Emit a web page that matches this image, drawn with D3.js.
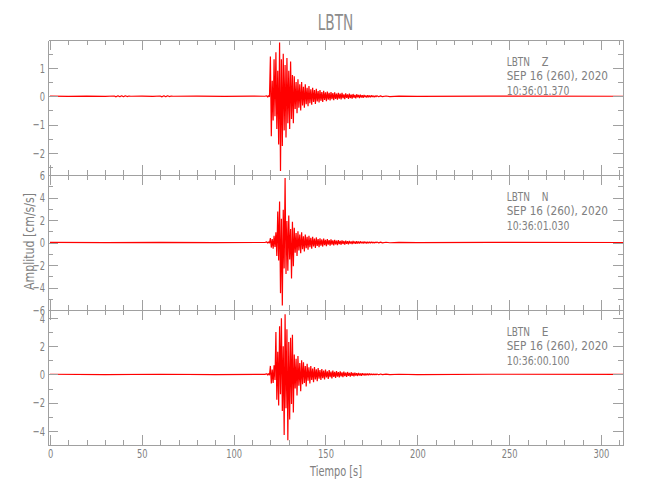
<!DOCTYPE html>
<html><head><meta charset="utf-8">
<script src="https://cdn.jsdelivr.net/npm/d3@7"></script>
<style>
body{margin:0;background:#fff}
svg{display:block}
text{font-family:"DejaVu Sans",sans-serif;font-weight:normal;fill:#808080}
</style>
</head><body>
<svg id="c" width="650" height="500"></svg>
<script>
// ---------- data ----------
const station = "LBTN";
const components = ["Z", "N", "E"];
const dateLabels = ["SEP 16 (260), 2020", "SEP 16 (260), 2020", "SEP 16 (260), 2020"];
const timeLabels = ["10:36:01.370", "10:36:01.030", "10:36:00.100"];
const xLabel = "Tiempo [s]";
const yLabel = "Amplitud [cm/s/s]";

const timeDomain = [-1.1, 312];
const xTicks = [0, 50, 100, 150, 200, 250, 300];
const xMinor = [10, 20, 30, 40, 60, 70, 80, 90, 110, 120, 130, 140, 160, 170, 180, 190, 210, 220, 230, 240, 260, 270, 280, 290, 310];

const zDomain = [-2.77, 1.98];
const zTicks = [-2, -1, 0, 1];
const zMinor = [-2.5, -1.5, -0.5, 0.5, 1.5];
const nDomain = [-6, 6];
const nTicks = [-6, -4, -2, 0, 2, 4, 6];
const nMinor = [-5, -3, -1, 1, 3, 5];
const eDomain = [-5.0, 4.56];
const eTicks = [-4, -2, 0, 2, 4];
const eMinor = [-5, -3, -1, 1, 3];

// strong-motion window: samples every 0.5 s starting at 118 s
const activeStart = 118, activeStep = 0.5;
const zValues = [
  0.02,-0.03, 0.03,-0.02, 1.40,-1.41, 0.55,-0.85, 1.30,-0.70,
  1.55,-1.15, 0.90,-1.70, 1.89,-2.63, 1.30,-1.75, 1.50,-1.20,
  1.10,-1.45, 1.35,-0.95, 0.90,-1.15, 1.22,-0.80, 0.75,-0.95,
  0.70,-0.45, 0.50,-0.60, 0.60,-0.40, 0.42,-0.50, 0.50,-0.32,
  0.33,-0.40, 0.42,-0.28, 0.30,-0.35, 0.36,-0.24, 0.25,-0.30,
  0.30,-0.20, 0.22,-0.27, 0.26,-0.18, 0.18,-0.22, 0.22,-0.16,
  0.15,-0.20, 0.19,-0.13, 0.14,-0.17, 0.17,-0.12, 0.12,-0.15,
  0.15,-0.10, 0.11,-0.14, 0.14,-0.09, 0.09,-0.12, 0.12,-0.08,
  0.09,-0.11, 0.12,-0.07, 0.07,-0.10, 0.10,-0.06, 0.07,-0.09,
  0.09,-0.06, 0.06,-0.08, 0.08,-0.05, 0.05,-0.07, 0.07,-0.04,
  0.05,-0.06, 0.06,-0.04, 0.04,-0.05, 0.05,-0.03, 0.03,-0.04,
  0.04,-0.03, 0.03,-0.03, 0.03,-0.02, 0.02,-0.03, 0.02,-0.02
];
const nValues = [
  0.05,-0.05, 0.06,-0.05, 0.40,-0.45, 0.30,-0.55, 0.60,-0.40,
  0.90,-1.20, 2.75,-1.60, 3.65,-4.50, 2.10,-5.60, 2.90,-2.30,
  5.74,-2.80, 1.90,-2.50, 2.40,-1.50, 1.20,-3.20, 1.85,-2.10,
  1.30,-0.90, 0.85,-1.20, 1.00,-0.70, 0.70,-0.95, 0.90,-0.60,
  0.55,-0.80, 0.70,-0.50, 0.50,-0.65, 0.60,-0.42, 0.42,-0.55,
  0.50,-0.36, 0.35,-0.48, 0.45,-0.30, 0.30,-0.42, 0.38,-0.28,
  0.27,-0.36, 0.34,-0.24, 0.24,-0.32, 0.30,-0.20, 0.21,-0.28,
  0.27,-0.18, 0.18,-0.25, 0.24,-0.16, 0.16,-0.23, 0.21,-0.15,
  0.14,-0.20, 0.19,-0.13, 0.13,-0.18, 0.17,-0.12, 0.12,-0.16,
  0.15,-0.10, 0.10,-0.14, 0.13,-0.09, 0.09,-0.12, 0.11,-0.08,
  0.08,-0.10, 0.10,-0.07, 0.07,-0.09, 0.08,-0.06, 0.06,-0.08,
  0.07,-0.05, 0.05,-0.06, 0.05,-0.04, 0.04,-0.05, 0.04,-0.03
];
const eValues = [
  0.05,-0.05, 0.06,-0.06, 0.60,-0.65, 0.35,-0.60, 0.65,-0.40,
  3.00,-1.80, 1.60,-2.20, 3.40,-1.40, 3.97,-2.60, 2.00,-4.30,
  4.25,-2.40, 3.20,-4.66, 2.30,-3.20, 2.60,-2.10, 2.80,-2.70,
  1.40,-1.00, 1.10,-1.50, 1.30,-0.80, 0.80,-1.20, 1.00,-0.70,
  0.85,-0.60, 0.60,-0.85, 0.75,-0.45, 0.50,-0.65, 0.60,-0.40,
  0.42,-0.55, 0.52,-0.35, 0.36,-0.48, 0.45,-0.30, 0.30,-0.40,
  0.38,-0.26, 0.27,-0.36, 0.34,-0.22, 0.22,-0.32, 0.30,-0.20,
  0.20,-0.28, 0.27,-0.18, 0.18,-0.25, 0.24,-0.16, 0.16,-0.22,
  0.21,-0.14, 0.14,-0.20, 0.19,-0.12, 0.12,-0.18, 0.17,-0.11,
  0.11,-0.15, 0.15,-0.10, 0.10,-0.13, 0.12,-0.08, 0.08,-0.11,
  0.10,-0.07, 0.07,-0.09, 0.08,-0.06, 0.06,-0.07, 0.06,-0.05,
  0.05,-0.05, 0.05,-0.04, 0.04,-0.04, 0.03,-0.04, 0.03,-0.03
];
// background noise outside the strong-motion window: [time s, value]
const zNoise = [[0,0.005],[10,-0.005],[20,0.005],[30,-0.005],
  [35,0.01],[36,-0.02],[37,0.02],[38,-0.02],[39,0.02],[40,-0.02],[41,0.02],[42,-0.01],[43,0.01],[44,0],
  [50,0.005],[56,-0.005],[60,0.01],[61,-0.02],[62,0.02],[63,-0.02],[64,0.02],[65,-0.01],[66,0.01],[67,0],
  [80,0.005],[95,-0.005],[110,0.005],[117,0],
  [178,0.02],[179,-0.02],[180,0.015],[181,-0.015],[183,0.01],[185,-0.01],[190,0.005],[200,-0.005],[240,0.005],[312,0]];
const nNoise = [[0,0.01],[30,-0.01],[60,0.01],[90,-0.01],[117,0],
  [178,0.04],[179,-0.03],[180,0.03],[181,-0.03],[183,0.02],[185,-0.02],[190,0.01],[200,-0.01],[240,0.01],[312,0]];
const eNoise = [[0,0.01],[30,-0.01],[60,0.01],[90,-0.01],[117,0],
  [178,0.03],[179,-0.03],[180,0.03],[181,-0.02],[183,0.02],[185,-0.02],[190,0.01],[200,-0.01],[240,0.01],[312,0]];

const panels = [
  {values: zValues, noise: zNoise, domain: zDomain, ticks: zTicks, minor: zMinor},
  {values: nValues, noise: nNoise, domain: nDomain, ticks: nTicks, minor: nMinor},
  {values: eValues, noise: eNoise, domain: eDomain, ticks: eTicks, minor: eMinor}
];

// ---------- layout ----------
const left = 48, right = 623, top0 = 40, panelH = 135;
const axisColor = "#a0a0a0";
const textColor = "#808080";
const sx = 0.64;

const svg = d3.select("#c");
const x = d3.scaleLinear().domain(timeDomain).range([left, right]);

function styleAxis(g) {
  g.selectAll("path, line").attr("stroke", axisColor).attr("shape-rendering", "crispEdges");
  g.selectAll("text").attr("fill", textColor).style("font-size", "13px")
    .style("font-family", '"DejaVu Sans",sans-serif');
}

panels.forEach((p, i) => {
  const top = top0 + i * panelH, bottom = top + panelH;
  const y = d3.scaleLinear().domain(p.domain).range([bottom, top]);

  // trace
  const active = p.values.map((v, k) => [activeStart + k * activeStep, v]);
  const pts = p.noise.concat(active).sort((a, b) => a[0] - b[0]);
  const clipId = "clip" + i;
  svg.append("clipPath").attr("id", clipId).append("rect")
    .attr("x", left).attr("y", top).attr("width", right - left).attr("height", panelH);
  svg.append("path").datum(pts)
    .attr("clip-path", `url(#${clipId})`)
    .attr("fill", "none").attr("stroke", "#ff0000").attr("stroke-width", 1.2)
    .attr("stroke-linejoin", "bevel")
    .attr("d", d3.line().x(d => x(d[0])).y(d => y(d[1])));

  // left axis (labels)
  const gl = svg.append("g").attr("transform", `translate(${left},0)`)
    .call(d3.axisLeft(y).tickValues(p.ticks).tickSize(-10).tickSizeOuter(0).tickPadding(3).tickFormat(d3.format("d")));
  gl.call(styleAxis);
  gl.selectAll("text").attr("transform", `scale(${sx},1)`).attr("x", -3 / sx);
  svg.append("g").attr("transform", `translate(${left},0)`)
    .call(d3.axisLeft(y).tickValues(p.minor).tickSize(-5).tickSizeOuter(0).tickFormat(""))
    .call(styleAxis);
  // right axis
  svg.append("g").attr("transform", `translate(${right},0)`)
    .call(d3.axisRight(y).tickValues(p.ticks).tickSize(-10).tickSizeOuter(0).tickFormat(""))
    .call(styleAxis);
  svg.append("g").attr("transform", `translate(${right},0)`)
    .call(d3.axisRight(y).tickValues(p.minor).tickSize(-5).tickSizeOuter(0).tickFormat(""))
    .call(styleAxis);
  // top axis
  svg.append("g").attr("transform", `translate(0,${top})`)
    .call(d3.axisTop(x).tickValues(xTicks).tickSize(-10).tickSizeOuter(0).tickFormat(""))
    .call(styleAxis);
  svg.append("g").attr("transform", `translate(0,${top})`)
    .call(d3.axisTop(x).tickValues(xMinor).tickSize(-5).tickSizeOuter(0).tickFormat(""))
    .call(styleAxis);
  // bottom axis
  const gb = svg.append("g").attr("transform", `translate(0,${bottom})`)
    .call(d3.axisBottom(x).tickValues(xTicks).tickSize(-10).tickSizeOuter(0).tickPadding(3.5)
      .tickFormat(i === 2 ? d3.format("d") : ""));
  gb.call(styleAxis);
  gb.selectAll("text").attr("transform", `scale(${sx},1)`);
  svg.append("g").attr("transform", `translate(0,${bottom})`)
    .call(d3.axisBottom(x).tickValues(xMinor).tickSize(-5).tickSizeOuter(0).tickFormat(""))
    .call(styleAxis);

  // annotation
  const ax = 506.7;
  const ann = (tx, ty, len, s) => svg.append("text").attr("x", tx).attr("y", ty)
    .style("font-size", "13px").style("fill", textColor)
    .attr("textLength", len).attr("lengthAdjust", "spacingAndGlyphs").text(s);
  ann(ax, top + 26, 23.3, station);
  ann(541.7, top + 26, 6.7, components[i]);
  ann(ax, top + 40, 101.3, dateLabels[i]);
  ann(ax, top + 54.5, 62.7, timeLabels[i]);
});

// title
svg.append("text").attr("x", (left + right) / 2).attr("y", 30).attr("text-anchor", "middle")
  .style("font-size", "22px").style("fill", "#8c8c8c")
  .attr("textLength", 35.6).attr("lengthAdjust", "spacingAndGlyphs").text(station);

// axis titles
svg.append("text").attr("x", 336).attr("y", 475.5).attr("text-anchor", "middle")
  .style("font-size", "13.5px").style("fill", textColor)
  .attr("textLength", 52).attr("lengthAdjust", "spacingAndGlyphs").text(xLabel);
svg.append("text").attr("transform", "translate(33.5,241.5) rotate(-90)").attr("text-anchor", "middle")
  .style("font-size", "14px").style("fill", textColor)
  .attr("textLength", 97).attr("lengthAdjust", "spacingAndGlyphs").text(yLabel);
</script>
</body></html>
